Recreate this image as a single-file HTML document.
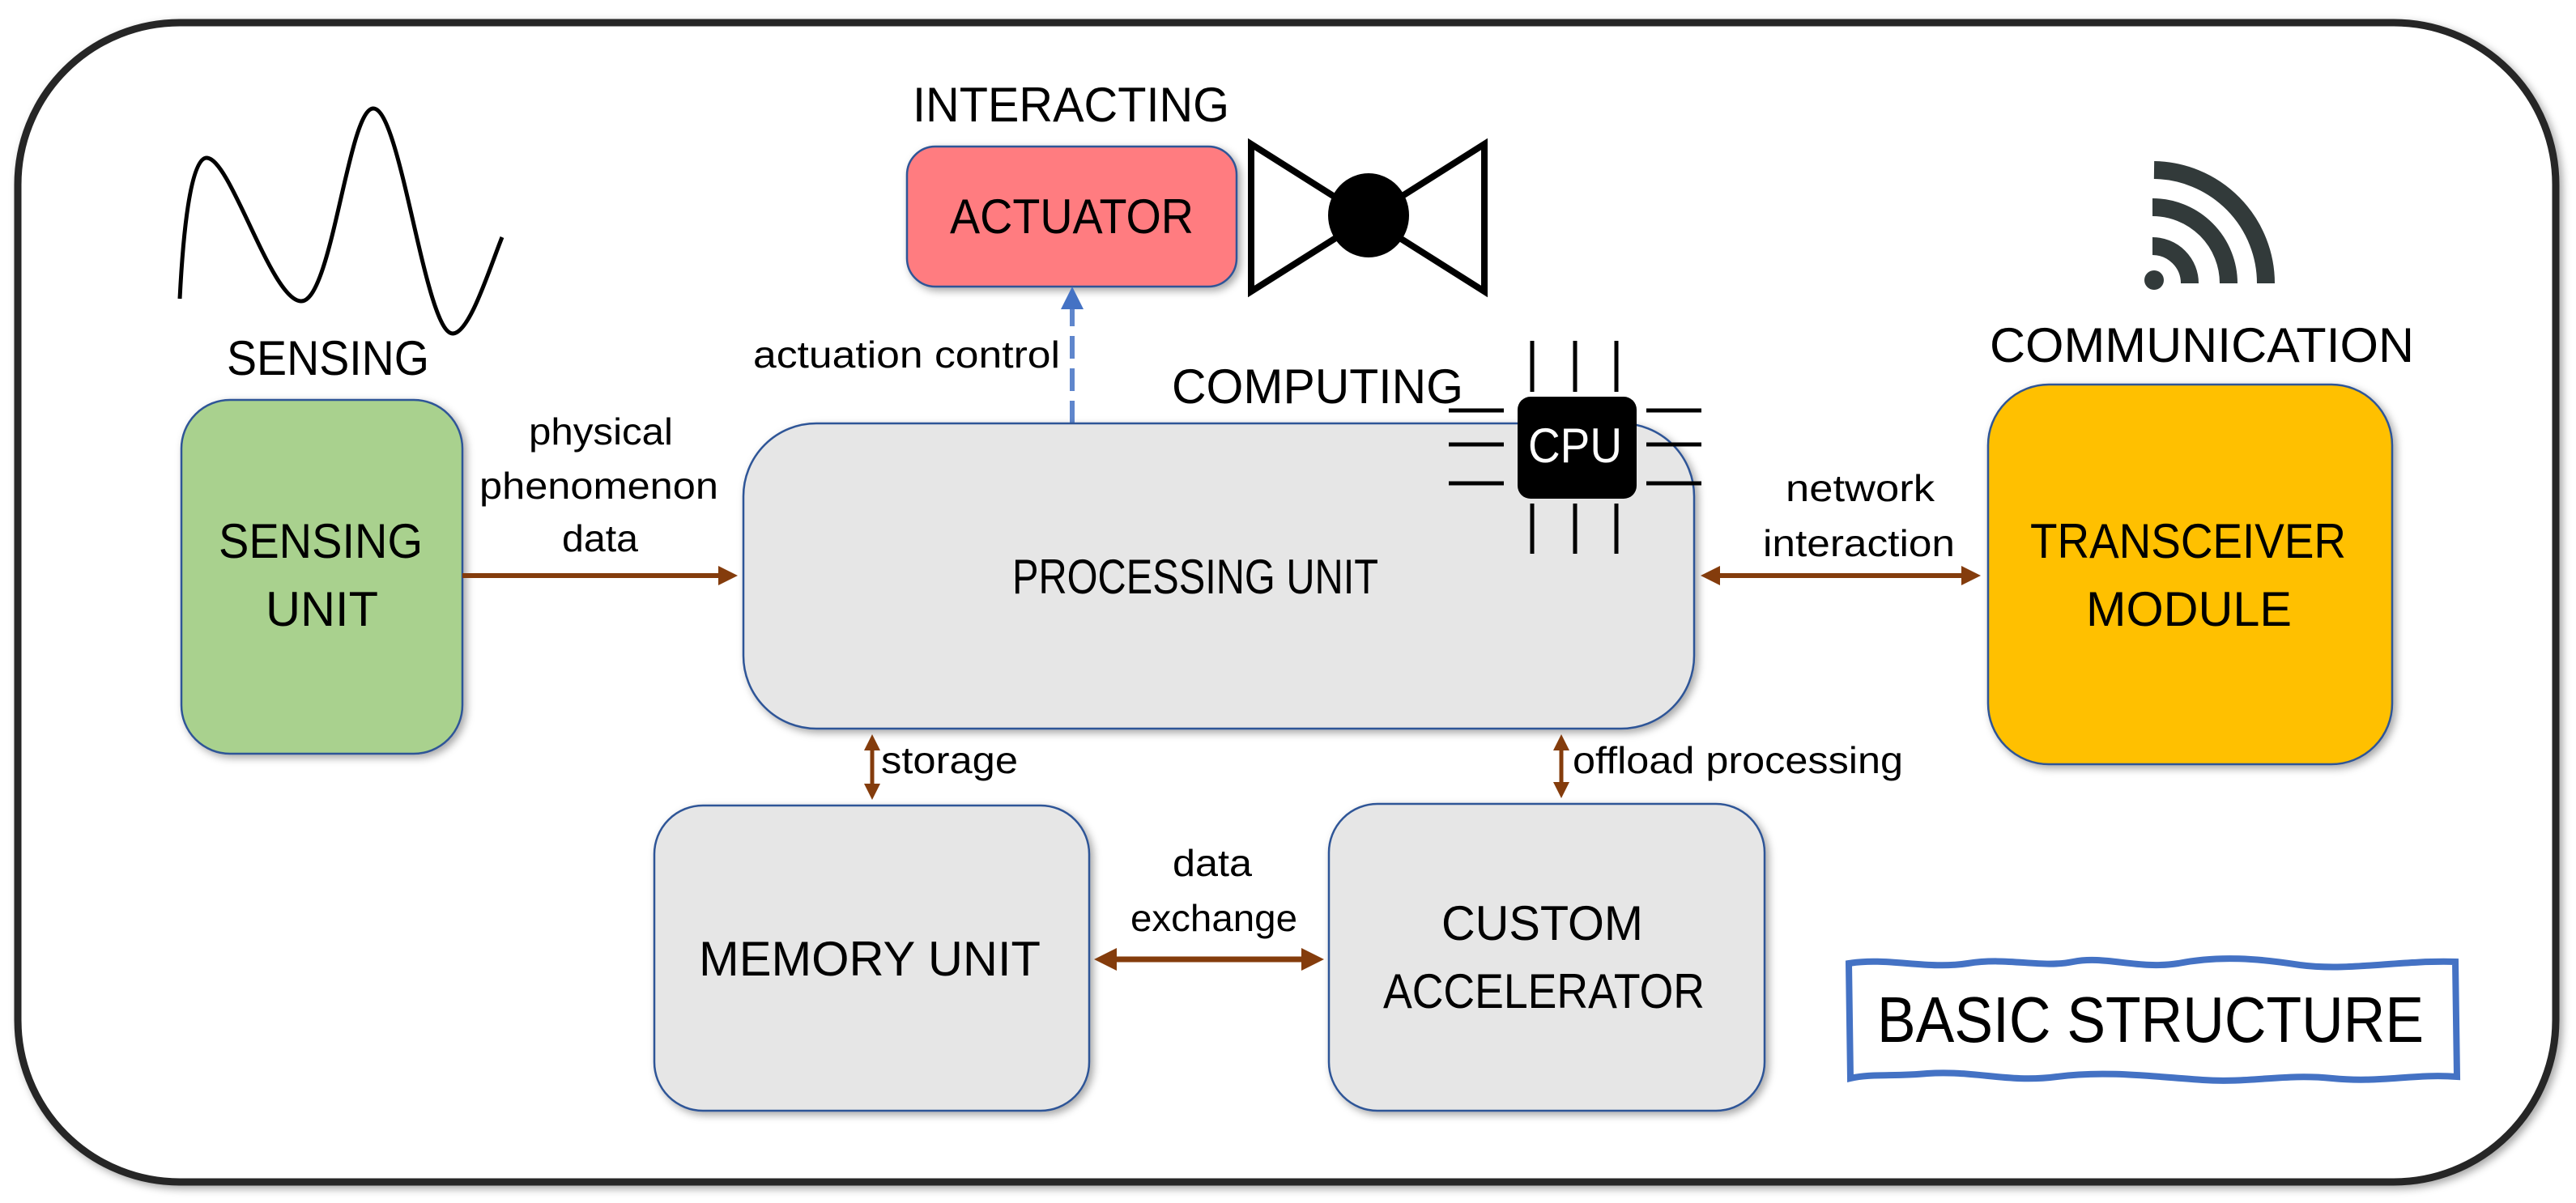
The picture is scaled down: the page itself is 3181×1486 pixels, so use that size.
<!DOCTYPE html>
<html><head><meta charset="utf-8"><style>
html,body{margin:0;padding:0;background:#fff}
svg{display:block}
text{font-family:"Liberation Sans Narrow","Liberation Sans",sans-serif;fill:#000}
.big{font-size:60px}
.sm{font-size:46px}
</style></head><body>
<svg width="3181" height="1486" viewBox="0 0 3181 1486" xmlns="http://www.w3.org/2000/svg">
<defs>
<filter id="sh" x="-10%" y="-10%" width="120%" height="120%"><feDropShadow dx="4" dy="4" stdDeviation="5" flood-color="#000" flood-opacity="0.35"/></filter>
<marker id="ab" markerWidth="4" markerHeight="4" refX="3" refY="2" orient="auto-start-reverse" markerUnits="strokeWidth"><path d="M0,0 L4,2 L0,4 z" fill="#843c0c"/></marker>
<marker id="abl" markerWidth="4" markerHeight="4" refX="3" refY="2" orient="auto" markerUnits="strokeWidth"><path d="M0,0 L4,2 L0,4 z" fill="#4472c4"/></marker>
</defs>
<!-- outer frame -->
<rect x="22" y="28" width="3134" height="1432" rx="200" ry="200" fill="#fff" stroke="#262626" stroke-width="9" filter="url(#sh)"/>
<!-- sine wave -->
<path d="M222,369 C228,250 240,195 255,195 C285,195 335,372 372,372 C410,372 430,134 461,134 C495,134 525,412 559,412 C580,412 605,330 620,293" fill="none" stroke="#000" stroke-width="5"/>
<text class="big" x="280" y="463" textLength="250" lengthAdjust="spacingAndGlyphs">SENSING</text>
<!-- sensing unit -->
<rect x="224" y="494" width="347" height="437" rx="60" fill="#a9d18e" stroke="#2f5597" stroke-width="2.5" filter="url(#sh)"/>
<text class="big" x="270" y="689" textLength="252" lengthAdjust="spacingAndGlyphs">SENSING</text>
<text class="big" x="328" y="773" textLength="139" lengthAdjust="spacingAndGlyphs">UNIT</text>
<!-- arrow sensing->processing -->
<line x1="571" y1="711" x2="905" y2="711" stroke="#843c0c" stroke-width="6" marker-end="url(#ab)"/>
<text class="sm" x="653" y="549" textLength="178" lengthAdjust="spacingAndGlyphs">physical</text>
<text class="sm" x="592" y="616" textLength="295" lengthAdjust="spacingAndGlyphs">phenomenon</text>
<text class="sm" x="694" y="681" textLength="94" lengthAdjust="spacingAndGlyphs">data</text>
<!-- actuator -->
<text class="big" x="1127" y="150" textLength="391" lengthAdjust="spacingAndGlyphs">INTERACTING</text>
<rect x="1120" y="181" width="407" height="173" rx="35" fill="#ff7c80" stroke="#2f5597" stroke-width="2.5" filter="url(#sh)"/>
<text class="big" x="1173" y="288" textLength="301" lengthAdjust="spacingAndGlyphs">ACTUATOR</text>
<line x1="1324" y1="523" x2="1324" y2="375" stroke="#4472c4" stroke-width="6" stroke-dasharray="28,12" opacity="0.85"/>
<path d="M1324,354 L1310,382 L1338,382 z" fill="#4472c4"/>
<text class="sm" x="930" y="454" textLength="379" lengthAdjust="spacingAndGlyphs">actuation control</text>
<!-- valve -->
<path d="M1545,178 L1545,360 L1833,178 L1833,360 Z" fill="none" stroke="#000" stroke-width="8" stroke-linejoin="miter"/>
<ellipse cx="1690" cy="266" rx="50" ry="52" fill="#000"/>
<!-- processing -->
<text class="big" x="1447" y="498" textLength="360" lengthAdjust="spacingAndGlyphs">COMPUTING</text>
<rect x="918" y="523" width="1174" height="377" rx="90" fill="#e6e6e6" stroke="#2f5597" stroke-width="2.5" filter="url(#sh)"/>
<text class="big" x="1250" y="733" textLength="452" lengthAdjust="spacingAndGlyphs">PROCESSING UNIT</text>
<!-- CPU -->
<g stroke="#000" stroke-width="5">
<line x1="1892" y1="421" x2="1892" y2="484"/><line x1="1945" y1="421" x2="1945" y2="484"/><line x1="1996" y1="421" x2="1996" y2="484"/>
<line x1="1892" y1="622" x2="1892" y2="684"/><line x1="1945" y1="622" x2="1945" y2="684"/><line x1="1996" y1="622" x2="1996" y2="684"/>
<line x1="1789" y1="507" x2="1857" y2="507"/><line x1="1789" y1="549" x2="1857" y2="549"/><line x1="1789" y1="597" x2="1857" y2="597"/>
<line x1="2033" y1="507" x2="2101" y2="507"/><line x1="2033" y1="549" x2="2101" y2="549"/><line x1="2033" y1="597" x2="2101" y2="597"/>
</g>
<rect x="1874" y="490" width="147" height="126" rx="16" fill="#000"/>
<text class="big" x="1887" y="571" textLength="116" lengthAdjust="spacingAndGlyphs" style="fill:#fff">CPU</text>
<!-- network -->
<line x1="2106" y1="711" x2="2440" y2="711" stroke="#843c0c" stroke-width="6" marker-start="url(#ab)" marker-end="url(#ab)"/>
<text class="sm" x="2205" y="619" textLength="184" lengthAdjust="spacingAndGlyphs">network</text>
<text class="sm" x="2177" y="687" textLength="237" lengthAdjust="spacingAndGlyphs">interaction</text>
<!-- transceiver -->
<text class="big" x="2457" y="447" textLength="524" lengthAdjust="spacingAndGlyphs">COMMUNICATION</text>
<rect x="2455" y="475" width="499" height="469" rx="75" fill="#ffc000" stroke="#2f5597" stroke-width="2.5" filter="url(#sh)"/>
<text class="big" x="2507" y="689" textLength="390" lengthAdjust="spacingAndGlyphs">TRANSCEIVER</text>
<text class="big" x="2576" y="773" textLength="254" lengthAdjust="spacingAndGlyphs">MODULE</text>
<!-- wifi -->
<g fill="none" stroke="#323a3a" stroke-width="22">
<path d="M2658,304 A46,46 0 0 1 2704,350"/>
<path d="M2658,256 A94,94 0 0 1 2752,350"/>
<path d="M2660,210 A140,140 0 0 1 2798,350"/>
</g>
<circle cx="2660" cy="346" r="12" fill="#323a3a"/>
<!-- storage / offload -->
<line x1="1077" y1="912" x2="1077" y2="983" stroke="#843c0c" stroke-width="5" marker-start="url(#ab)" marker-end="url(#ab)"/>
<text class="sm" x="1088" y="955" textLength="169" lengthAdjust="spacingAndGlyphs">storage</text>
<line x1="1928" y1="912" x2="1928" y2="981" stroke="#843c0c" stroke-width="5" marker-start="url(#ab)" marker-end="url(#ab)"/>
<text class="sm" x="1942" y="955" textLength="408" lengthAdjust="spacingAndGlyphs">offload processing</text>
<!-- memory -->
<rect x="808" y="995" width="537" height="377" rx="60" fill="#e6e6e6" stroke="#2f5597" stroke-width="2.5" filter="url(#sh)"/>
<text class="big" x="863" y="1205" textLength="422" lengthAdjust="spacingAndGlyphs">MEMORY UNIT</text>
<!-- accelerator -->
<rect x="1641" y="993" width="538" height="379" rx="60" fill="#e6e6e6" stroke="#2f5597" stroke-width="2.5" filter="url(#sh)"/>
<text class="big" x="1780" y="1161" textLength="249" lengthAdjust="spacingAndGlyphs">CUSTOM</text>
<text class="big" x="1708" y="1245" textLength="397" lengthAdjust="spacingAndGlyphs">ACCELERATOR</text>
<!-- data exchange -->
<line x1="1358" y1="1185" x2="1628" y2="1185" stroke="#843c0c" stroke-width="7" marker-start="url(#ab)" marker-end="url(#ab)"/>
<text class="sm" x="1448" y="1082" textLength="98" lengthAdjust="spacingAndGlyphs">data</text>
<text class="sm" x="1396" y="1150" textLength="206" lengthAdjust="spacingAndGlyphs">exchange</text>
<!-- basic structure -->
<path d="M2283,1190 C2330,1182 2380,1198 2430,1190 C2480,1182 2520,1196 2560,1188 C2600,1180 2640,1198 2690,1190 C2740,1180 2790,1184 2840,1192 C2900,1200 2960,1186 3032,1188 L3034,1330 C2980,1326 2940,1338 2880,1332 C2820,1326 2780,1338 2720,1334 C2660,1330 2600,1322 2540,1330 C2480,1338 2440,1322 2380,1326 C2340,1330 2310,1326 2285,1332 Z" fill="#fff" stroke="#4472c4" stroke-width="8"/>
<text x="2318" y="1287" style="font-size:80px" textLength="675" lengthAdjust="spacingAndGlyphs">BASIC STRUCTURE</text>
</svg>
</body></html>
